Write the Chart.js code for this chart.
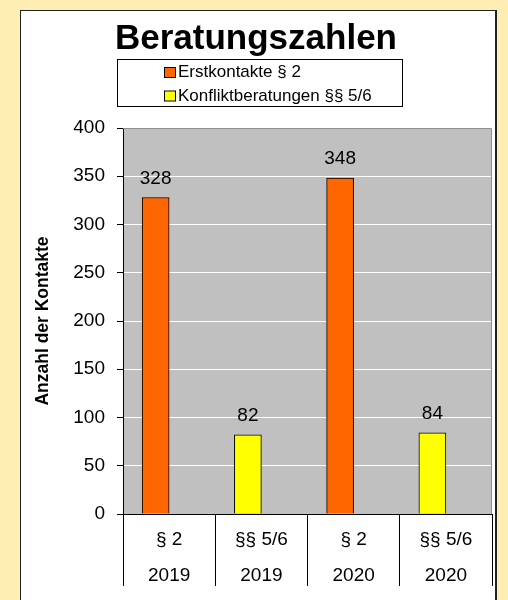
<!DOCTYPE html>
<html>
<head>
<meta charset="utf-8">
<script src="https://cdn.jsdelivr.net/npm/chart.js@4.4.1/dist/chart.umd.min.js"></script>
<style>
  html, body { margin: 0; padding: 0; }
  body { width: 508px; height: 600px; background: #FFEEB4; position: relative; overflow: hidden; }
  #panel { position: absolute; left: 20px; top: 10px; width: 474px; height: 620px;
           background: #FFFFFF; border-left: 1px solid #222; border-top: 1px solid #222; border-right: 2px solid #222; }
  #c { position: absolute; left: 0; top: 0; }
</style>
</head>
<body>
<div id="panel"></div>
<canvas id="c" width="508" height="600"></canvas>
<script>
// ---- data ----
const categories = [['§ 2', '2019'], ['§§ 5/6', '2019'], ['§ 2', '2020'], ['§§ 5/6', '2020']];
const erstkontakte = [328, null, 348, null];
const konfliktberatungen = [null, 82, null, 84];
const seriesNames = ['Erstkontakte § 2', 'Konfliktberatungen §§ 5/6'];
const yTicks = [0, 50, 100, 150, 200, 250, 300, 350, 400];
const chartTitle = 'Beratungszahlen';
const yAxisTitle = 'Anzahl der Kontakte';

const FONT = "'Liberation Sans', Arial, sans-serif";
Chart.defaults.font.family = FONT;
Chart.defaults.color = '#000';

const plotBackground = {
  id: 'plotBackground',
  beforeDraw(chart) {
    const a = chart.chartArea, ctx = chart.ctx;
    ctx.save();
    ctx.fillStyle = '#C0C0C0';
    ctx.fillRect(a.left, a.top, a.right - a.left, a.bottom - a.top);
    ctx.restore();
  },
  beforeDatasetsDraw(chart) {
    const a = chart.chartArea, ctx = chart.ctx;
    ctx.save();
    ctx.strokeStyle = '#909090';
    ctx.lineWidth = 1;
    ctx.beginPath();
    ctx.moveTo(a.left, a.top + 0.5);
    ctx.lineTo(a.right - 0.5, a.top + 0.5);
    ctx.lineTo(a.right - 0.5, a.bottom);
    ctx.stroke();
    ctx.restore();
  }
};

const valueLabels = {
  id: 'valueLabels',
  afterDatasetsDraw(chart) {
    const ctx = chart.ctx;
    ctx.save();
    ctx.font = '19px ' + FONT;
    ctx.fillStyle = '#000';
    ctx.textAlign = 'center';
    ctx.textBaseline = 'middle';
    chart.data.datasets.forEach((ds, di) => {
      const meta = chart.getDatasetMeta(di);
      meta.data.forEach((el, i) => {
        const v = ds.data[i];
        if (v === null || v === undefined) return;
        ctx.fillText(String(v), el.x, el.y - 19);
      });
    });
    ctx.restore();
  }
};

const boxLegend = {
  id: 'boxLegend',
  afterDraw(chart) {
    const ctx = chart.ctx;
    const bx = 117, by = 59, bw = 285, bh = 47;
    ctx.save();
    ctx.fillStyle = '#FFFFFF';
    ctx.fillRect(bx, by, bw, bh);
    ctx.strokeStyle = '#000';
    ctx.lineWidth = 1;
    ctx.strokeRect(bx + 0.5, by + 0.5, bw, bh);
    ctx.font = '17px ' + FONT;
    ctx.textBaseline = 'middle';
    ctx.textAlign = 'left';
    const rows = [72.5, 96];
    seriesNames.forEach((name, i) => {
      const ds = chart.data.datasets[i];
      const cy = rows[i];
      ctx.fillStyle = ds.backgroundColor;
      ctx.fillRect(165, cy - 4.5, 10, 9);
      ctx.strokeStyle = '#000';
      ctx.strokeRect(164.5, cy - 5, 11, 10);
      ctx.fillStyle = '#000';
      ctx.fillText(name, 178, cy);
    });
    ctx.restore();
  }
};

new Chart(document.getElementById('c'), {
  type: 'bar',
  data: {
    labels: categories,
    datasets: [
      { label: seriesNames[0], data: erstkontakte, backgroundColor: '#FF6600', borderColor: '#000', borderWidth: 1, stack: 'a', barThickness: 27 },
      { label: seriesNames[1], data: konfliktberatungen, backgroundColor: '#FFFF00', borderColor: '#000', borderWidth: 1, stack: 'a', barThickness: 27 },
      { label: '', data: [null, null, null, null], backgroundColor: 'rgba(0,0,0,0)', borderWidth: 0, stack: 'b', barThickness: 27 }
    ]
  },
  options: {
    responsive: false,
    animation: false,
    devicePixelRatio: 1,
    layout: { padding: { left: 20, right: 16, top: 10, bottom: 0 } },
    plugins: {
      legend: { display: false },
      tooltip: { enabled: false },
      title: {
        display: true,
        text: chartTitle,
        color: '#000',
        font: { size: 35, weight: 'bold', lineHeight: 1.2 },
        padding: { top: 8, bottom: 68 }
      }
    },
    scales: {
      x: {
        grid: { offset: true, drawOnChartArea: false, tickLength: 72, tickColor: '#000', tickWidth: 1 },
        border: { color: '#000', width: 1 },
        ticks: { font: { size: 19, lineHeight: '36px' }, color: '#000', padding: -64, maxRotation: 0, autoSkip: false },
        afterFit(scale) { scale.height = 86; }
      },
      y: {
        min: 0,
        max: 400,
        afterBuildTicks(scale) { scale.ticks = yTicks.map(v => ({ value: v })); },
        grid: { color: '#FFFFFF', lineWidth: 1, tickLength: 6, tickColor: '#000' },
        border: { color: '#000', width: 1 },
        ticks: { font: { size: 19 }, color: '#000', padding: 12 },
        title: { display: true, text: yAxisTitle, color: '#000', font: { size: 17.5, weight: 'bold' }, padding: { top: 13, bottom: 0 } },
        afterFit(scale) { scale.width = 103; }
      }
    }
  },
  plugins: [plotBackground, valueLabels, boxLegend]
});
</script>
</body>
</html>
